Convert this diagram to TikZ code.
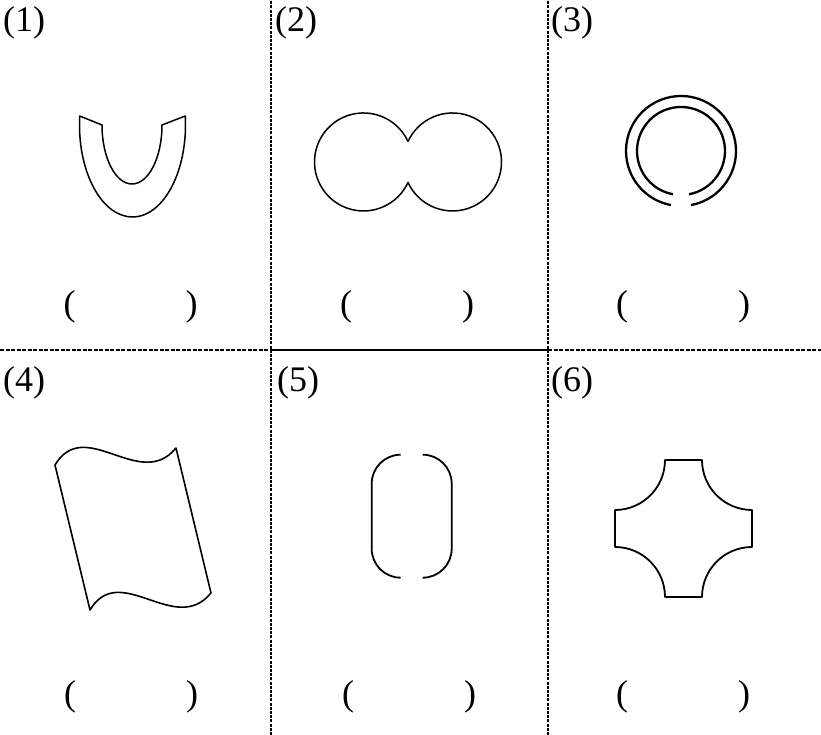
\documentclass[tikz,border=0pt]{standalone}
\usepackage{fontspec}
\setmainfont{Liberation Serif}
\usetikzlibrary{calc}

\begin{document}
\begin{tikzpicture}[x=1pt, y=1pt, line join=round,
    outline/.style={draw, line width=1.5pt},
    grid/.style={line width=1.5pt, dash pattern=on 3pt off 1.2pt},
    midline/.style={line width=2pt, dash pattern=on 4pt off 1.5pt},
    tag/.style={font=\fontsize{36}{36}\selectfont, inner sep=0pt, anchor=west},
    blank/.style={font=\fontsize{36}{36}\selectfont, inner sep=0pt}]
    \useasboundingbox (0,0) rectangle (821,735);

    \draw[grid] (271,0) -- (271,735);
    \draw[grid] (548,0) -- (548,735);
    \draw[midline] (0,385) -- (271,385);
    \draw[midline] (548,385) -- (821,385);
    \draw[line width=2.6pt] (271,385) -- (548,385);

    \node[tag] (t1) at (3,712) {(1)};
    \node[tag] (t2) at (275,712) {(2)};
    \node[tag] (t3) at (551,712) {(3)};
    \node[tag] (t4) at (3,352) {(4)};
    \node[tag] (t5) at (277,352) {(5)};
    \node[tag] (t6) at (551,352) {(6)};

    \node[blank] (b1) at (130.5,428) {(\hspace{110pt})};
    \node[blank] (b2) at (407,428) {(\hspace{110pt})};
    \node[blank] (b3) at (683,428) {(\hspace{110pt})};
    \node[blank] (b4) at (131,38) {(\hspace{110pt})};
    \node[blank] (b5) at (409,38) {(\hspace{110pt})};
    \node[blank] (b6) at (683,38) {(\hspace{110pt})};

    \draw[outline] (132.5,610) ++(174.4:53 and 92)
        arc[start angle=174.4, end angle=365.6, x radius=53, y radius=92]
        -- (162,610) arc[start angle=0, end angle=-180, x radius=30, y radius=59] -- cycle;

    \draw[outline] (408,593.5) arc[start angle=24.7, end angle=335.3, radius=49]
        arc[start angle=204.7, end angle=515.3, radius=49] -- cycle;

    \draw[outline, line width=2.3pt] (681,584) ++(-79.5:55) arc[start angle=-79.5, end angle=259.5, radius=55];
    \draw[outline, line width=2.3pt] (681,584) ++(-79.5:44) arc[start angle=-79.5, end angle=259.5, radius=44];

    \draw[outline, line width=1.6pt] (55,270) .. controls (85,320) and (140,243) .. (176,287)
        -- (211,142) .. controls (175,98) and (120,175) .. (90,125) -- cycle;

    \draw[outline, line width=1.8pt] (400.7,280.3) arc[start angle=90, end angle=180, radius=29]
        -- (371.7,186.3) arc[start angle=180, end angle=270, radius=29];
    \draw[outline, line width=1.8pt] (422.7,280.3) arc[start angle=90, end angle=0, radius=29]
        -- (451.7,186.3) arc[start angle=0, end angle=-90, radius=29];

    \draw[outline, line width=1.8pt] (665,275) -- (702,275) arc[start angle=180, end angle=270, radius=50]
        -- (752,188) arc[start angle=90, end angle=180, radius=50]
        -- (665,138) arc[start angle=0, end angle=90, radius=50]
        -- (615,225) arc[start angle=270, end angle=360, radius=50] -- cycle;
\end{tikzpicture}
\end{document}
